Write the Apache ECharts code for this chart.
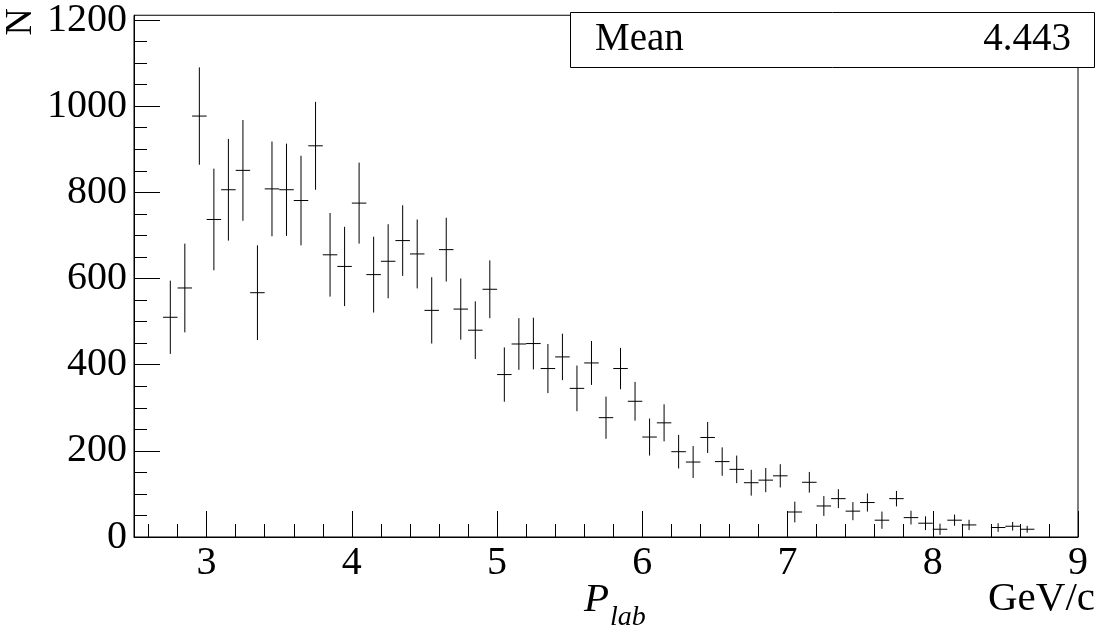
<!DOCTYPE html>
<html>
<head>
<meta charset="utf-8">
<script src="https://cdn.jsdelivr.net/npm/echarts@6/dist/echarts.min.js"></script>
<style>
html,body{margin:0;padding:0;background:#fff;}
#chart{width:1100px;height:632px;}
</style>
</head>
<body>
<div id="chart"></div>
<script>
// ---- data ----
var binCenters = [2.75,2.85,2.95,3.05,3.15,3.25,3.35,3.45,3.55,3.65,3.75,3.85,3.95,4.05,4.15,4.25,4.35,4.45,4.55,4.65,4.75,4.85,4.95,5.05,5.15,5.25,5.35,5.45,5.55,5.65,5.75,5.85,5.95,6.05,6.15,6.25,6.35,6.45,6.55,6.65,6.75,6.85,6.95,7.05,7.15,7.25,7.35,7.45,7.55,7.65,7.75,7.85,7.95,8.05,8.15,8.25,8.45,8.55,8.65];
var counts = [510,578,977,737,806,851,567,808,806,781,908,655,628,775,609,640,688,657,526,667,529,480,575,377,448,449,391,418,345,404,277,391,315,232,265,198,174,231,175,157,126,132,142,58,127,72,89,60,80,39,89,45,32,18,39,28,22,25,18];
var errors = [85,103,113,118,118,117,110,110,107,104,102,97,92,94,88,86,82,80,77,74,71,67,67,63,60,60,57,54,53,51,49,48,45,43,43,39,37,36,33,32,30,28,27,24,24,23,22,21,21,20,18,16,16,13,13,12,10,10,8];
var binWidth = 0.1;
var xMajorTicks = [3,4,5,6,7,8,9];
var xMinorTicks = [2.6,2.8,3.2,3.4,3.6,3.8,4.2,4.4,4.6,4.8,5.2,5.4,5.6,5.8,6.2,6.4,6.6,6.8,7.2,7.4,7.6,7.8,8.2,8.4,8.6,8.8];
var yMajorTicks = [0,200,400,600,800,1000,1200];
var yMinorTicks = [50,100,150,250,300,350,450,500,550,650,700,750,850,900,950,1050,1100,1150];
var xMin = 2.5, xMax = 9, yMin = 0, yMax = 1211;
var statLabel = 'Mean', statValue = '4.443';
var xTitle = 'P', xTitleSub = 'lab', xUnit = 'GeV/c', yTitle = 'N';

var FONT = 'Liberation Serif';
var seriesData = binCenters.map(function (x, i) { return [x, counts[i], errors[i]]; });

var chart = echarts.init(document.getElementById('chart'), null, {renderer: 'canvas'});
var labelStyle = {color: '#000', fontFamily: FONT, fontSize: 40};
function plain(v) { return String(v); }

chart.setOption({
  animation: false,
  backgroundColor: '#fff',
  grid: {left: 134, right: 22, top: 13, bottom: 95, show: true, borderColor: '#000', borderWidth: 1, backgroundColor: 'transparent'},
  xAxis: [{
    type: 'value', min: xMin, max: xMax, position: 'bottom',
    axisLine: {show: true, onZero: false, lineStyle: {color: '#000', width: 1}},
    axisTick: {show: true, inside: true, length: 26, customValues: xMajorTicks, lineStyle: {color: '#000', width: 1}},
    axisLabel: Object.assign({show: true, margin: 6, customValues: xMajorTicks, formatter: plain}, labelStyle),
    splitLine: {show: false}
  }, {
    type: 'value', min: xMin, max: xMax, position: 'bottom',
    axisLine: {show: false},
    axisTick: {show: true, inside: true, length: 13, customValues: xMinorTicks, lineStyle: {color: '#000', width: 1}},
    axisLabel: {show: false},
    splitLine: {show: false}
  }],
  yAxis: [{
    type: 'value', min: yMin, max: yMax, position: 'left',
    axisLine: {show: true, onZero: false, lineStyle: {color: '#000', width: 1}},
    axisTick: {show: true, inside: true, length: 26, customValues: yMajorTicks, lineStyle: {color: '#000', width: 1}},
    axisLabel: Object.assign({show: true, margin: 7, customValues: yMajorTicks, formatter: plain}, labelStyle),
    splitLine: {show: false}
  }, {
    type: 'value', min: yMin, max: yMax, position: 'left',
    axisLine: {show: false},
    axisTick: {show: true, inside: true, length: 13, customValues: yMinorTicks, lineStyle: {color: '#000', width: 1}},
    axisLabel: {show: false},
    splitLine: {show: false}
  }],
  series: [{
    type: 'custom',
    xAxisIndex: 0, yAxisIndex: 0,
    data: seriesData,
    clip: true,
    renderItem: function (params, api) {
      var x = api.value(0), v = api.value(1), e = api.value(2);
      var c = api.coord([x, v]);
      var hi = api.coord([x, v + e]);
      var lo = api.coord([x, Math.max(v - e, 0)]);
      var l = api.coord([x - binWidth / 2, v]);
      var r = api.coord([x + binWidth / 2, v]);
      var st = {stroke: '#000', lineWidth: 1, fill: null};
      return {type: 'group', children: [
        {type: 'line', shape: {x1: c[0], y1: hi[1], x2: c[0], y2: lo[1]}, style: st},
        {type: 'line', shape: {x1: l[0], y1: c[1], x2: r[0], y2: c[1]}, style: st}
      ]};
    }
  }],
  graphic: [
    {type: 'rect', z: 100, shape: {x: 570.5, y: 12.5, width: 524, height: 55}, style: {fill: '#fff', stroke: '#000', lineWidth: 1}},
    {type: 'text', z: 101, style: {x: 595, y: 40, text: statLabel, font: '39px "Liberation Serif"', fill: '#000', textAlign: 'left', textVerticalAlign: 'middle'}},
    {type: 'text', z: 101, style: {x: 1071, y: 40, text: statValue, font: '39px "Liberation Serif"', fill: '#000', textAlign: 'right', textVerticalAlign: 'middle'}},
    {type: 'text', z: 101, style: {x: 584, y: 600, text: xTitle, font: 'italic 41px "Liberation Serif"', fill: '#000', textAlign: 'left', textVerticalAlign: 'middle'}},
    {type: 'text', z: 101, style: {x: 610, y: 618, text: xTitleSub, font: 'italic 28px "Liberation Serif"', fill: '#000', textAlign: 'left', textVerticalAlign: 'middle'}},
    {type: 'text', z: 101, style: {x: 1095, y: 599, text: xUnit, font: '41px "Liberation Serif"', fill: '#000', textAlign: 'right', textVerticalAlign: 'middle'}},
    {type: 'text', z: 101, x: 21, y: 8, rotation: Math.PI / 2, style: {x: 0, y: 0, text: yTitle, font: '38px "Liberation Serif"', fill: '#000', textAlign: 'right', textVerticalAlign: 'middle'}}
  ]
});
</script>
</body>
</html>
